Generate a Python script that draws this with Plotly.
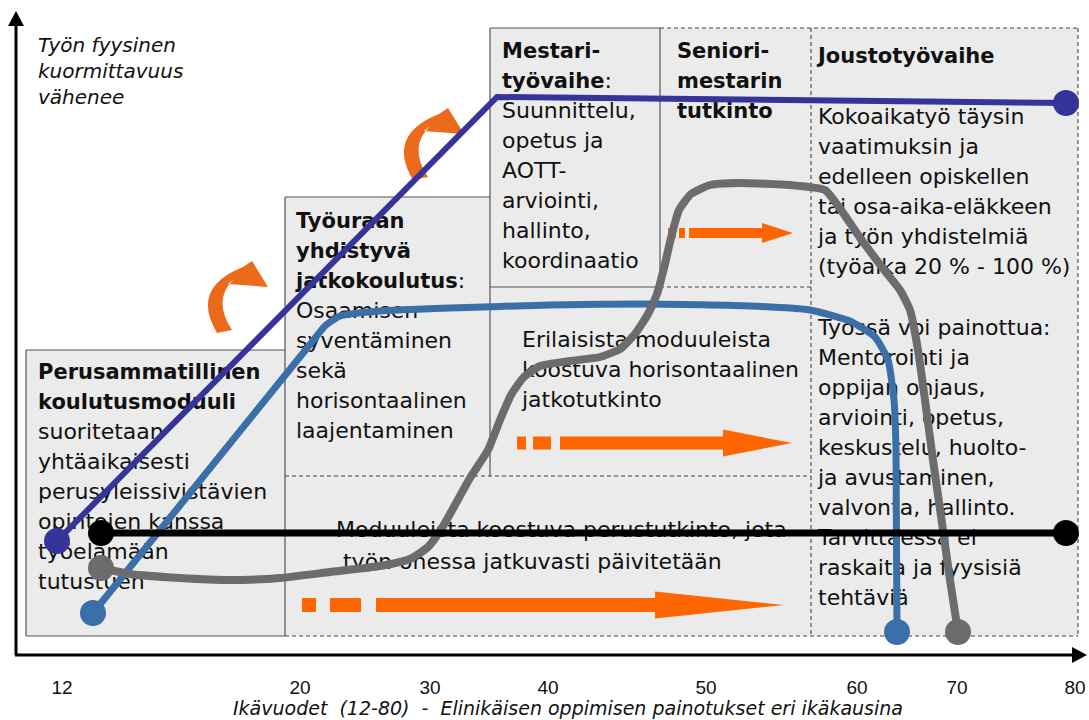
import plotly.graph_objects as go

# ---------------- data ----------------
# horizontal axis: diagram positions of the age ticks and their labels
age_labels = ["12", "20", "30", "40", "50", "60", "70", "80"]
age_pos = [62, 300, 430, 548, 706, 857, 957, 1075]

# curves (diagram units: x = position along age axis, y = height, downward)
darkblue_x = [57, 497, 1066]
darkblue_y = [541, 97, 103]

steel_x = [93, 312, 325, 340, 380, 450, 550, 650, 750, 810, 850, 875, 888, 894, 896, 897]
steel_y = [613, 342, 326, 316, 311, 308, 305, 304, 306, 310, 321, 337, 360, 400, 450, 632]

gray_x = [101, 130, 180, 230, 280, 330, 380, 410, 428, 442, 455, 470, 488, 500, 511, 523, 540, 570,
          600, 620, 635, 648, 657, 664, 671, 679, 691, 710, 740, 790, 825, 841, 861, 885, 900, 910,
          918, 925, 933, 943, 950, 958]
gray_y = [568, 574, 578, 580, 578, 572, 566, 559, 547, 528, 505, 478, 450, 420, 395, 378, 366, 361,
          357, 349, 334, 314, 294, 268, 238, 210, 194, 185, 183, 185, 190, 210, 239, 271, 290, 310,
          350, 400, 460, 530, 580, 632]

black_x = [101, 1066]
black_y = [533, 533]

# text blocks
perus_lines = ["<b>Perusammatillinen</b>", "<b>koulutusmoduuli</b>", "suoritetaan", "yhtäaikaisesti",
               "perusyleissivistävien", "opintojen kanssa", "työelämään", "tutustuen"]
tyoura_lines = ["<b>Työuraan</b>", "<b>yhdistyvä</b>", "<b>jatkokoulutus</b>:", "Osaamisen",
                "syventäminen", "sekä", "horisontaalinen", "laajentaminen"]
mestari_lines = ["<b>Mestari-</b>", "<b>työvaihe</b>:", "Suunnittelu,", "opetus ja", "AOTT-",
                 "arviointi,", "hallinto,", "koordinaatio"]
seniori_lines = ["<b>Seniori-</b>", "<b>mestarin</b>", "<b>tutkinto</b>"]
jousto_title = ["<b>Joustotyövaihe</b>"]
jousto_lines1 = ["Kokoaikatyö täysin", "vaatimuksin ja", "edelleen opiskellen",
                 "tai osa-aika-eläkkeen", "ja työn yhdistelmiä", "(työaika 20 % - 100 %)"]
jousto_lines2 = ["Työssä voi painottua:", "Mentorointi ja", "oppijan ohjaus,", "arviointi, opetus,",
                 "keskustelu, huolto-", "ja avustaminen,", "valvonta, hallinto.", "Tarvittaessa ei",
                 "raskaita ja fyysisiä", "tehtäviä"]
erilaisista_lines = ["Erilaisista moduuleista", "koostuva horisontaalinen", "jatkotutkinto"]
moduuli_lines = ["Moduuleista koostuva perustutkinto, jota", "\u00a0työn ohessa jatkuvasti päivitetään"]
yaxis_lines = ["Työn fyysinen", "kuormittavuus", "vähenee"]
x_title = "Ikävuodet\u00a0 (12-80)\u00a0 -\u00a0 Elinikäisen oppimisen painotukset eri ikäkausina"

# ---------------- styling ----------------
FONT = "DejaVu Sans"
BOX_FILL = "#ebebeb"
EDGE = "#555555"
ORANGE = "#ff6600"
DARKBLUE = "#35349a"
STEEL = "#3b6fa7"
GRAY = "#6c6c6c"

fig = go.Figure()
shapes = []

# box fills
for x0, y0, x1, y1 in [(26, 350, 285, 636), (285, 476, 811, 636), (285, 197, 490, 476),
                       (490, 287, 811, 476), (490, 28, 660, 287), (660, 28, 811, 287),
                       (811, 28, 1078, 636)]:
    shapes.append(dict(type="rect", xref="x", yref="y", x0=x0, y0=y0, x1=x1, y1=y1,
                       fillcolor=BOX_FILL, line=dict(width=0), layer="below"))

solid = [(26, 350, 285, 350), (26, 350, 26, 636), (26, 636, 285, 636), (285, 197, 285, 636),
         (285, 197, 490, 197), (490, 28, 490, 476), (490, 28, 660, 28), (660, 28, 660, 287),
         (490, 287, 660, 287)]
dashed = [(660, 28, 1078, 28), (811, 28, 811, 636), (1078, 28, 1078, 636), (660, 287, 811, 287),
          (285, 476, 811, 476), (285, 636, 1078, 636)]
for x0, y0, x1, y1 in solid:
    shapes.append(dict(type="line", xref="x", yref="y", x0=x0, y0=y0, x1=x1, y1=y1,
                       line=dict(color=EDGE, width=1.2), layer="below"))
for x0, y0, x1, y1 in dashed:
    shapes.append(dict(type="line", xref="x", yref="y", x0=x0, y0=y0, x1=x1, y1=y1,
                       line=dict(color="#444444", width=1.1, dash="4px,3px"), layer="below"))


def straight_arrow(y, pieces, body0, body1, tip, bh, hh):
    p = ""
    for a, b in pieces:
        p += f"M{a},{y-bh/2} L{b},{y-bh/2} L{b},{y+bh/2} L{a},{y+bh/2} Z "
    p += (f"M{body0},{y-bh/2} L{body1},{y-bh/2} L{body1},{y-hh/2} L{tip},{y} "
          f"L{body1},{y+hh/2} L{body1},{y+bh/2} L{body0},{y+bh/2} Z")
    return dict(type="path", xref="x", yref="y", path=p, fillcolor=ORANGE,
                line=dict(width=0), layer="below")


shapes.append(straight_arrow(233, [(668, 676), (679, 685)], 689, 762, 793, 10, 20))
shapes.append(straight_arrow(443, [(517, 526), (533, 551)], 560, 723, 792, 13, 27))
shapes.append(straight_arrow(605, [(302, 316), (330, 361)], 376, 655, 784, 14, 27))


def curved_arrow(dx, dy):
    pts = dict(a=(217, 333), c1=(190, 288), b=(243, 267), h1=(252, 261), t=(268, 287),
               h2=(228, 284), d=(234, 279), c2=(212, 300), e=(232, 330))
    q = {k: (v[0] + dx, v[1] + dy) for k, v in pts.items()}
    p = (f"M{q['a'][0]},{q['a'][1]} Q{q['c1'][0]},{q['c1'][1]} {q['b'][0]},{q['b'][1]} "
         f"L{q['h1'][0]},{q['h1'][1]} L{q['t'][0]},{q['t'][1]} L{q['h2'][0]},{q['h2'][1]} "
         f"L{q['d'][0]},{q['d'][1]} Q{q['c2'][0]},{q['c2'][1]} {q['e'][0]},{q['e'][1]} Z")
    return dict(type="path", xref="x", yref="y", path=p, fillcolor="#eb6a1c",
                line=dict(width=0), layer="below")


shapes.append(curved_arrow(0, 0))
shapes.append(curved_arrow(196, -153))

# axes arrows
shapes.append(dict(type="line", xref="x", yref="y", x0=16, y0=655, x1=16, y1=24,
                   line=dict(color="black", width=3)))
shapes.append(dict(type="path", xref="x", yref="y", path="M8,26 L24,26 L16,11 Z",
                   fillcolor="black", line=dict(width=0)))
shapes.append(dict(type="line", xref="x", yref="y", x0=15, y0=655, x1=1074, y1=655,
                   line=dict(color="black", width=3)))
shapes.append(dict(type="path", xref="x", yref="y", path="M1072,647 L1072,663 L1087,655 Z",
                   fillcolor="black", line=dict(width=0)))


def bold_size(t, size):
    return t.replace("<b>", f"<b><span style='font-size:{size}px'>").replace("</b>", "</span></b>")


def add_text(x, y0, lines, size=22, bsize=21, spacing=30, italic=False, color="#111111"):
    txt = [f"<i>{t}</i>" if italic else bold_size(t, bsize) for t in lines]
    fig.add_trace(go.Scatter(x=[x] * len(lines), y=[y0 + i * spacing for i in range(len(lines))],
                             mode="text", text=txt, textposition="middle right",
                             textfont=dict(family=FONT, size=size, color=color),
                             hoverinfo="skip", showlegend=False))


add_text(38, 373, perus_lines)
add_text(296, 222, tyoura_lines)
add_text(502, 52, mestari_lines)
add_text(677, 52, seniori_lines)
add_text(818, 57, jousto_title)
add_text(818, 118, jousto_lines1)
add_text(818, 329, jousto_lines2)
add_text(522, 341, erilaisista_lines)
add_text(336, 531, moduuli_lines, spacing=32)
add_text(38, 47, yaxis_lines, size=20, spacing=26, italic=True)


def add_curve(xs, ys, color, width, dot=26, spline=True):
    sizes = [dot] + [0] * (len(xs) - 2) + [dot]
    fig.add_trace(go.Scatter(x=xs, y=ys, mode="lines+markers",
                             line=dict(color=color, width=width,
                                       shape="spline" if spline else "linear",
                                       smoothing=0.5),
                             marker=dict(size=sizes, color=color, opacity=1,
                                         line=dict(width=0)),
                             opacity=1,
                             hoverinfo="skip", showlegend=False))


add_curve(steel_x, steel_y, STEEL, 7, spline=True)
add_curve(gray_x, gray_y, GRAY, 8, spline=True)
add_curve(black_x, black_y, "black", 7, spline=False)
add_curve(darkblue_x, darkblue_y, DARKBLUE, 6, spline=False)

fig.add_annotation(text=f"<i>{x_title}</i>", xref="x", yref="paper", x=568, y=-(708 - 670) / 670,
                   xanchor="center", yanchor="middle", showarrow=False,
                   font=dict(family=FONT, size=19, color="#111111"))

fig.update_layout(
    width=1089, height=720,
    margin=dict(l=0, r=0, t=0, b=50),
    paper_bgcolor="white", plot_bgcolor="white",
    shapes=shapes,
    showlegend=False,
    xaxis=dict(range=[0, 1089], showgrid=False, zeroline=False, showline=False,
               tickmode="array", tickvals=age_pos, ticktext=age_labels, ticks="",
               ticklabelstandoff=4,
               tickfont=dict(family="Liberation Sans Narrow, Liberation Sans, sans-serif",
                             size=19, color="#111111"),
               fixedrange=True),
    yaxis=dict(range=[670, 0], visible=False, fixedrange=True),
)

fig.write_html("out.html", config={"displayModeBar": False},
               post_script="document.body.style.margin='0px';")
